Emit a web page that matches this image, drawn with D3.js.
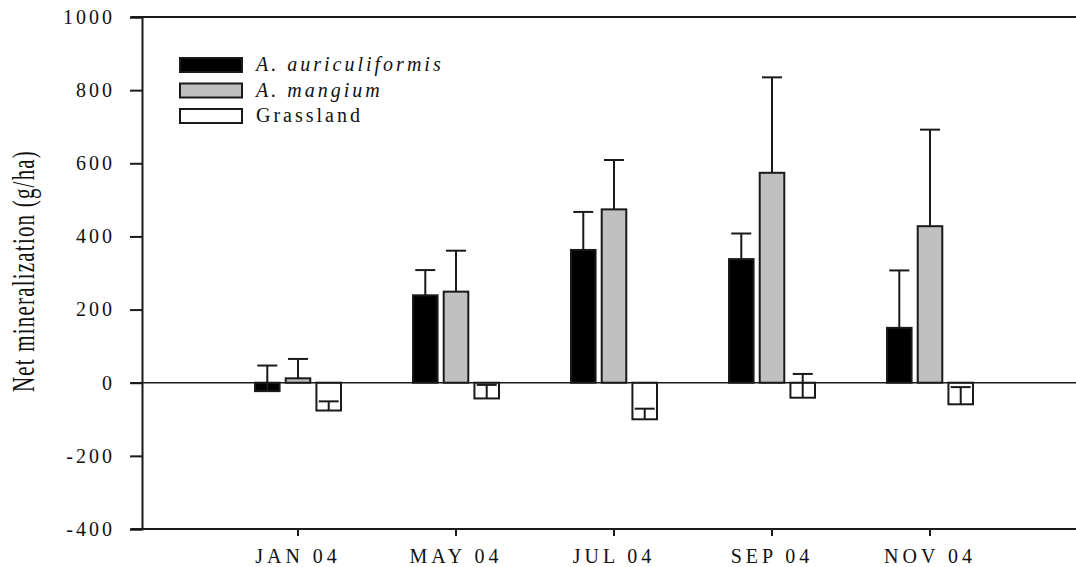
<!DOCTYPE html>
<html>
<head>
<meta charset="utf-8">
<script src="https://cdn.jsdelivr.net/npm/d3@7"></script>
<style>
  body { margin: 0; background: #fff; }
  svg { display: block; font-family: "Liberation Serif", "DejaVu Serif", serif; }
</style>
</head>
<body>
<div id="chart"></div>
<script>
////////////// DATA //////////////

const months = ["JAN 04", "MAY 04", "JUL 04", "SEP 04", "NOV 04"];
const seriesNames = ["A. auriculiformis", "A. mangium", "Grassland"];

const auriculiformis = [-23, 239, 363, 338, 150];
const auriculiformisErr = [70, 69, 104, 70, 157];
const mangium = [12, 249, 474, 574, 428];
const mangiumErr = [53, 112, 135, 261, 264];
const grassland = [-76, -43, -100, -41, -59];
const grasslandErr = [25, 37, 29, 65, 47];

const yTicks = [-400, -200, 0, 200, 400, 600, 800, 1000];

////////////// CHART //////////////

const width = 1076, height = 567;
const fills = ["#000000", "#c0c0c0", "#ffffff"];
const italics = [true, true, false];

const svg = d3.select("#chart").append("svg")
    .attr("width", width)
    .attr("height", height);

const axisX = 142;
const y = d3.scaleLinear().domain([-400, 1000]).range([529, 17]);

const x0 = d3.scaleBand().domain(months).range([219, 1009]).padding(0);
const bw = x0.bandwidth();
const x1 = d3.scaleBand().domain(d3.range(3)).range([bw / 2 - 43, bw / 2 + 43]).paddingInner(0.2);

const values = [auriculiformis, mangium, grassland];
const errs = [auriculiformisErr, mangiumErr, grasslandErr];

const rows = [];
months.forEach((m, i) => {
    values.forEach((vals, s) => {
        rows.push({ month: m, s: s, v: vals[i], e: errs[s][i] });
    });
});

// bars
svg.append("g").selectAll("rect")
    .data(rows)
    .enter().append("rect")
    .attr("x", d => x0(d.month) + x1(d.s))
    .attr("y", d => y(Math.max(0, d.v)))
    .attr("width", x1.bandwidth())
    .attr("height", d => Math.abs(y(d.v) - y(0)))
    .attr("fill", d => fills[d.s])
    .attr("stroke", "#1a1a1a")
    .attr("stroke-width", 2);

// frame lines
const lineStyle = sel => sel.attr("stroke", "#1a1a1a").attr("fill", "none");
svg.append("line").call(lineStyle).attr("stroke-width", 1.6)
    .attr("x1", 131).attr("x2", width).attr("y1", y(0)).attr("y2", y(0));
svg.append("line").call(lineStyle).attr("stroke-width", 2)
    .attr("x1", 131).attr("x2", width).attr("y1", y(1000)).attr("y2", y(1000));
svg.append("line").call(lineStyle).attr("stroke-width", 2)
    .attr("x1", 131).attr("x2", width).attr("y1", y(-400)).attr("y2", y(-400));

// error bars (all drawn in the positive direction)
const eb = svg.append("g").selectAll("g")
    .data(rows)
    .enter().append("g")
    .attr("transform", d => `translate(${x0(d.month) + x1(d.s) + x1.bandwidth() / 2},0)`);

eb.append("line").call(lineStyle).attr("stroke-width", 2)
    .attr("x1", 0).attr("x2", 0)
    .attr("y1", d => y(d.v)).attr("y2", d => y(d.v + d.e));
eb.append("line").call(lineStyle).attr("stroke-width", 2)
    .attr("x1", -10).attr("x2", 10)
    .attr("y1", d => y(d.v + d.e)).attr("y2", d => y(d.v + d.e));

// y axis
const gy = svg.append("g")
    .attr("transform", `translate(${axisX},0)`)
    .call(d3.axisLeft(y).tickValues(yTicks).tickFormat(d => String(d)).tickSize(12).tickPadding(15));
gy.select(".domain").attr("stroke", "#1a1a1a").attr("stroke-width", 2);
gy.selectAll(".tick line").attr("stroke", "#1a1a1a").attr("stroke-width", 2);
gy.selectAll(".tick text")
    .attr("fill", "#111")
    .style("font-size", "20px")
    .style("letter-spacing", "3px")
    .style("font-family", "Liberation Serif, serif");

// x axis
const gx = svg.append("g")
    .attr("transform", `translate(0,${y(-400)})`)
    .call(d3.axisBottom(x0).tickSize(7).tickPadding(13));
gx.select(".domain").remove();
gx.selectAll(".tick line").attr("stroke", "#1a1a1a").attr("stroke-width", 2);
gx.selectAll(".tick text")
    .attr("fill", "#111")
    .style("font-size", "20px")
    .style("letter-spacing", "4px")
    .style("font-family", "Liberation Serif, serif");

// y title
svg.append("text")
    .attr("transform", "translate(34,271) scale(1.5,1) rotate(-90)")
    .attr("text-anchor", "middle")
    .style("font-size", "21px")
    .style("letter-spacing", "1.2px")
    .attr("fill", "#111")
    .text("Net mineralization (g/ha)");

// legend
const legend = svg.append("g").selectAll("g")
    .data(seriesNames)
    .enter().append("g")
    .attr("transform", (d, i) => `translate(180,${58 + i * 25.5})`);

legend.append("rect")
    .attr("width", 62).attr("height", 14)
    .attr("fill", (d, i) => fills[i])
    .attr("stroke", "#1a1a1a")
    .attr("stroke-width", 2);

legend.append("text")
    .attr("x", 76).attr("y", 13)
    .style("font-size", "20px")
    .style("letter-spacing", "3px")
    .style("font-style", (d, i) => italics[i] ? "italic" : "normal")
    .attr("fill", "#111")
    .text(d => d);
</script>
</body>
</html>
